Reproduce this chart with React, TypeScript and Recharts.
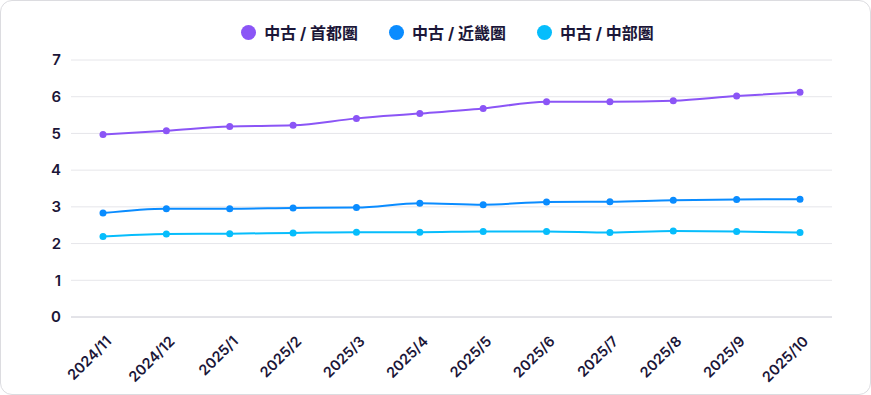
import React from "react";
import {
  LineChart,
  Line,
  XAxis,
  YAxis,
  CartesianGrid,
  Legend,
} from "recharts";

const months = [
  "2024/11", "2024/12", "2025/1", "2025/2", "2025/3", "2025/4",
  "2025/5", "2025/6", "2025/7", "2025/8", "2025/9", "2025/10",
];
const shutoken = [4.97, 5.07, 5.19, 5.22, 5.41, 5.54, 5.68, 5.86, 5.86, 5.89, 6.02, 6.12];
const kinki = [2.83, 2.95, 2.95, 2.97, 2.98, 3.1, 3.06, 3.13, 3.14, 3.18, 3.2, 3.21];
const chubu = [2.19, 2.26, 2.27, 2.29, 2.31, 2.31, 2.33, 2.33, 2.3, 2.34, 2.33, 2.3];
const yTicks = [0, 1, 2, 3, 4, 5, 6, 7];

const series = [
  { key: "shutoken", name: "中古 / 首都圏", color: "#8b55f6" },
  { key: "kinki", name: "中古 / 近畿圏", color: "#0a8cff" },
  { key: "chubu", name: "中古 / 中部圏", color: "#06bdfc" },
];

const data = months.map((m, i) => ({
  month: m,
  shutoken: shutoken[i],
  kinki: kinki[i],
  chubu: chubu[i],
}));

const FONT = "Inter, 'Noto Sans CJK JP', sans-serif";
const TEXT = "#1b1638";

function LegendRow() {
  return (
    <div
      style={{
        display: "flex",
        justifyContent: "center",
        gap: 31,
        paddingLeft: 24,
        fontFamily: FONT,
      }}
    >
      {series.map((s) => (
        <div key={s.key} style={{ display: "flex", alignItems: "center", gap: 8 }}>
          <span
            style={{
              width: 15,
              height: 15,
              borderRadius: "50%",
              background: s.color,
              display: "inline-block",
            }}
          />
          <span style={{ fontSize: 16, fontWeight: 700, color: TEXT }}>{s.name}</span>
        </div>
      ))}
    </div>
  );
}

export default function App() {
  return (
    <div
      style={{
        position: "absolute",
        left: 0,
        top: 0,
        width: 869,
        height: 393,
        border: "1px solid #dcdce0",
        borderRadius: 12,
        background: "#fff",
        overflow: "hidden",
      }}
    >
      <LineChart
        width={869}
        height={393}
        data={data}
        margin={{ top: 24, right: 38, bottom: 7, left: 20 }}
      >
        <CartesianGrid vertical={false} stroke="#e6e6ea" />
        <Legend
          verticalAlign="top"
          height={35}
          content={() => <LegendRow />}
          wrapperStyle={{ top: 19, left: 0, width: 869 }}
        />
        <XAxis
          dataKey="month"
          angle={-45}
          textAnchor="end"
          height={70}
          tickLine={false}
          tickMargin={12}
          padding={{ left: 32, right: 32 }}
          stroke="#d4d4dc"
          interval={0}
          tick={{ fill: TEXT, fontSize: 14.5, fontWeight: 600, fontFamily: FONT, dx: 2 }}
        />
        <YAxis
          width={50}
          domain={[0, 7]}
          ticks={yTicks}
          axisLine={false}
          tickLine={false}
          tickMargin={4}
          tick={{ fill: TEXT, fontSize: 15, fontWeight: 600, fontFamily: FONT }}
        />
        {series.map((s) => (
          <Line
            key={s.key}
            type="monotone"
            dataKey={s.key}
            name={s.name}
            stroke={s.color}
            strokeWidth={2}
            dot={{ r: 3.5, fill: s.color, stroke: s.color, strokeWidth: 0 }}
            isAnimationActive={false}
          />
        ))}
      </LineChart>
    </div>
  );
}
